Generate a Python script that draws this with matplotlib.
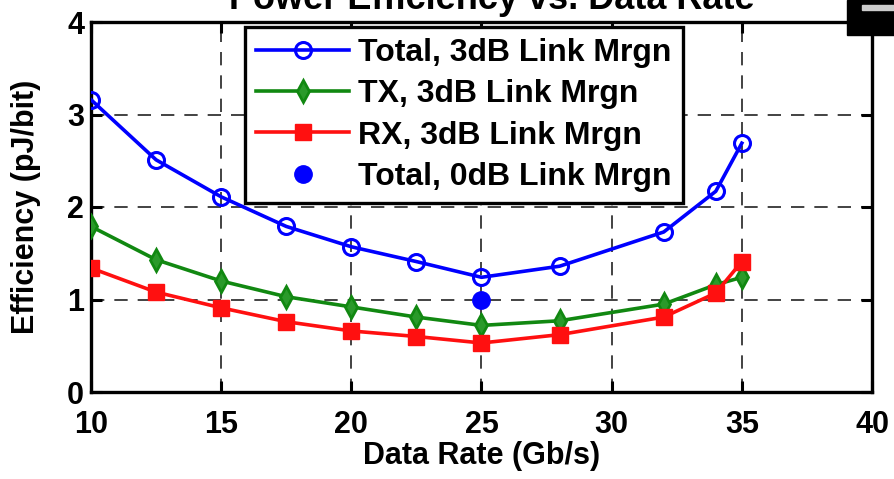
import matplotlib
matplotlib.use("Agg")
import matplotlib.pyplot as plt
from matplotlib.patches import Rectangle

# Data
rate = [10, 12.5, 15, 17.5, 20, 22.5, 25, 28, 32, 34, 35]
total_3db = [3.16, 2.51, 2.11, 1.79, 1.57, 1.41, 1.24, 1.36, 1.73, 2.17, 2.69]
tx_3db = [1.79, 1.43, 1.20, 1.03, 0.92, 0.81, 0.72, 0.77, 0.95, 1.16, 1.24]
rx_3db = [1.34, 1.08, 0.91, 0.76, 0.66, 0.60, 0.53, 0.62, 0.81, 1.07, 1.41]
total_0db_rate = [25]
total_0db = [1.0]

xticks = [10, 15, 20, 25, 30, 35, 40]
yticks = [0, 1, 2, 3, 4]

plt.rcParams["font.family"] = ["Liberation Sans", "DejaVu Sans"]
plt.rcParams["font.weight"] = "bold"

W, H = 895, 479
fig = plt.figure(figsize=(W / 100, H / 100), dpi=100)
ax = fig.add_axes([91 / W, 1 - 392 / H, (872 - 91) / W, (392 - 22) / H])

ax.plot(rate, total_3db, color="#0000ff", lw=2.6, marker="o", ms=11.5,
        mfc="none", mec="#0000ff", mew=2.2, label="Total, 3dB Link Mrgn", zorder=3)
ax.plot(rate, tx_3db, color="#118811", lw=2.6, marker="d", ms=11,
        mfc="#2a9a2a", mec="#118811", mew=2.0, label="TX, 3dB Link Mrgn", zorder=3)
ax.plot(rate, rx_3db, color="#ff1010", lw=2.6, marker="s", ms=11,
        mfc="#ff1010", mec="#ff1010", label="RX, 3dB Link Mrgn", zorder=3)
ax.plot(total_0db_rate, total_0db, ls="none", marker="o", ms=12.5,
        color="#0000ff", label="Total, 0dB Link Mrgn", zorder=4)

ax.set_xlim(10, 40)
ax.set_ylim(0, 4)
ax.set_xticks(xticks)
ax.set_yticks(yticks)
ax.tick_params(direction="in", length=8, width=2.2, top=True, right=True,
               labelsize=22)
ax.tick_params(axis="x", pad=13)
ax.tick_params(axis="y", pad=5)
for lab in ax.get_xticklabels() + ax.get_yticklabels():
    lab.set_fontweight("bold")
for sp in ax.spines.values():
    sp.set_linewidth(2.4)
ax.grid(True, color="#222222", ls=(0, (8, 6)), lw=1.2)
ax.set_axisbelow(True)

ax.set_xlabel("Data Rate (Gb/s)", fontsize=22, fontweight="bold", labelpad=1)
ax.set_ylabel("Efficiency (pJ/bit)", fontsize=22, fontweight="bold", labelpad=19)

leg = ax.legend(loc="upper left", bbox_to_anchor=(245 / W, 1 - 27 / H),
                bbox_transform=fig.transFigure, borderaxespad=0,
                prop={"weight": "bold", "size": 23},
                handlelength=2.9, handletextpad=0.3, labelspacing=0.35,
                borderpad=0.35, fancybox=False, framealpha=1,
                edgecolor="black")
leg.get_frame().set_linewidth(2.4)

# title, mostly cut off by the top edge
fig.text(0.55, 1 - 9 / H, "Power Efficiency vs. Data Rate", ha="center",
         va="baseline", fontsize=26, fontweight="bold")

# cropped black element at top right
fig.add_artist(Rectangle((847 / W, 1 - 35 / H), 48 / W, 35 / H,
                         transform=fig.transFigure, color="black", zorder=5))
fig.add_artist(Rectangle((862 / W, 1 - 10 / H), 33 / W, 5 / H,
                         transform=fig.transFigure, color="#cccccc", zorder=6))

fig.savefig("out.png", dpi=100)
